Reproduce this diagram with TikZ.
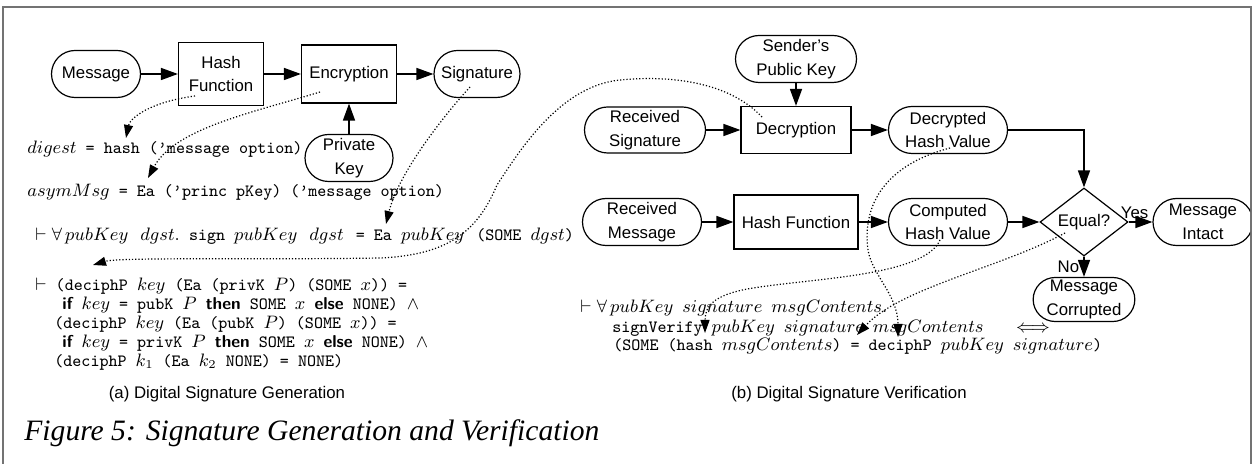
\documentclass[tikz,border=0pt]{standalone}
\usepackage{amsmath}
\usepackage{amssymb}
\usepackage{fontspec}
\usepackage{tikz}
\usetikzlibrary{shapes.geometric}
\usetikzlibrary{shapes.misc}
\usetikzlibrary{arrows.meta}
\usetikzlibrary{calc}
\newfontfamily\arialFont{Liberation Sans}
\newfontfamily\captionFont{Liberation Serif}
\colorlet{FrameGray}{black!55}
\newcommand{\boxFont}{\arialFont\fontsize{8.4}{11.8}\selectfont}
\newcommand{\holFont}{\ttfamily\fontsize{8.6}{10}\selectfont}
\newcommand{\holKw}[1]{{\sffamily\bfseries #1}}

\begin{document}
\begin{tikzpicture}[x=0.5pt,y=-0.5pt,
  box/.style={draw, line width=0.6pt, rectangle, align=center, font=\boxFont, inner sep=1pt},
  pill/.style={draw, line width=0.6pt, rounded rectangle, align=center, font=\boxFont, inner sep=1pt},
  flow/.style={line width=0.8pt, -{Triangle[length=8.5pt,width=6pt]}},
  hint/.style={line width=0.6pt, densely dotted, -{Triangle[length=6.5pt,width=4.5pt]}},
  hol/.style={anchor=base west, inner sep=0pt, font=\holFont},
  subcap/.style={font=\boxFont, inner sep=0pt}]

\useasboundingbox (0,0) rectangle (1254,464);

% The frame (bottom edge cut away)
\draw[line width=1pt, FrameGray] (3,464) |- (1251,7) -- (1251,464);

\def \rowA {74}
\def \rowB {130}
\def \rowC {222}

% (a) generation
\node[pill, minimum width=46.5pt, minimum height=23.5pt] (msg) at (96,\rowA) {Message};
\node[box, minimum width=42.5pt, minimum height=31.5pt] (hashA) at (221,\rowA) {Hash\\Function};
\node[box, minimum width=47.5pt, minimum height=29pt] (encA) at (349,\rowA) {Encryption};
\node[pill, minimum width=45pt, minimum height=23.5pt] (sigA) at (477,\rowA) {Signature};
\node[pill, minimum width=46pt, minimum height=23.5pt] (privA) at (349,158) {Private\\Key};

\draw[flow] (msg) -- (hashA);
\draw[flow] (hashA) -- (encA);
\draw[flow] (encA) -- (sigA);
\draw[flow] (privA) -- (encA);

% (b) verification
\node[pill, minimum width=62.5pt, minimum height=23.5pt] (pubB) at (796,59) {Sender’s\\Public Key};
\node[pill, minimum width=62.5pt, minimum height=23pt] (rsig) at (645,\rowB) {Received\\Signature};
\node[box, minimum width=55pt, minimum height=23.5pt] (dec) at (796,\rowB) {Decryption};
\node[pill, minimum width=61.5pt, minimum height=23.5pt] (dhash) at (948,\rowB) {Decrypted\\Hash Value};
\node[pill, minimum width=61.5pt, minimum height=23.5pt] (rmsg) at (642,\rowC) {Received\\Message};
\node[box, minimum width=62pt, minimum height=27pt] (hashB) at (796,\rowC) {Hash Function};
\node[pill, minimum width=61.5pt, minimum height=23.5pt] (chash) at (948,\rowC) {Computed\\Hash Value};
\node[diamond, draw, line width=0.6pt, font=\boxFont, inner sep=0pt,
      minimum width=44pt, minimum height=30pt] (eq) at (1084,\rowC) {Equal?};
\begin{scope}
\clip (1100,180) rectangle (1250,270);
\node[pill, minimum width=52pt, minimum height=23.5pt] (intact) at (1203,\rowC) {Message\\Intact};
\end{scope}
\node[pill, minimum width=49pt, minimum height=22pt] (corr) at (1084,299.5) {Message\\Corrupted};

\draw[flow] (pubB) -- (dec);
\draw[flow] (rsig) -- (dec);
\draw[flow] (dec) -- (dhash);
\draw[flow] (dhash.east) -| (eq.north);
\draw[flow] (rmsg) -- (hashB);
\draw[flow] (hashB) -- (chash);
\draw[flow] (chash) -- (eq);
\draw[flow] (eq) -- node[pos=0.25, above, font=\boxFont, inner sep=1.5pt] {Yes} (intact);
\draw[flow] (eq) -- node[left, font=\boxFont, inner sep=2pt] {No} (corr);

% HOL text of (a)
\node[hol] (digestEq) at (27,154) {$digest$ = hash (’message option)};
\node[hol] (asymEq) at (27,197) {$asymMsg$ = Ea (’princ pKey) (’message option)};
\node[hol] (signThm) at (35,241) {$\vdash\forall\,pubKey\,$ $dgst.$ sign $pubKey\,$ $dgst\,$ = Ea $pubKey\,$ (SOME $dgst$)};
\node[hol] (decA) at (35,291) {$\vdash$ (deciphP $key$ (Ea (privK $P$) (SOME $x$)) =};
\node[hol] (decB) at (62,310) {\holKw{if} $key$ = pubK $P$ \holKw{then} SOME $x$ \holKw{else} NONE) $\wedge$};
\node[hol] (decC) at (54,329) {(deciphP $key$ (Ea (pubK $P$) (SOME $x$)) =};
\node[hol] (decD) at (62,348) {\holKw{if} $key$ = privK $P$ \holKw{then} SOME $x$ \holKw{else} NONE) $\wedge$};
\node[hol] (decE) at (54,367) {(deciphP $k_1$ (Ea $k_2$ NONE) = NONE)};

% HOL text of (b)
\node[hol] (verA) at (580,313) {$\vdash\forall\,pubKey$ $signature$ $msgContents.$};
\node[hol] (verB) at (612,333) {signVerify $pubKey$ $signature$ $msgContents$ \ \ $\iff$};
\node[hol] (verC) at (613,351) {(SOME (hash $msgContents$) = deciphP $pubKey$ $signature$)};

% captions
\node[subcap] (capA) at (227,394) {(a) Digital Signature Generation};
\node[subcap] (capB) at (849,394) {(b) Digital Signature Verification};
\node[font=\captionFont\itshape\fontsize{14.8}{18}\selectfont, anchor=base west, inner sep=0pt]
  (figCap) at (24,441) {Figure 5: Signature Generation and Verification};

% dotted links from the boxes to the text
\coordinate (t1) at (126,138);
\coordinate (t2) at (148,178);
\coordinate (t3) at (386,224);
\coordinate (t4) at (93,265);
\coordinate (t5) at (898,337);
\coordinate (t6) at (705,333);
\coordinate (t7) at (857,335);

\draw[hint] ($(hashA)+(-26,22)$) .. controls (150,102) and (130,118) .. (t1);
\draw[hint] ($(encA)+(-29,18)$) .. controls (255,112) and (175,128) .. (t2);
\draw[hint] ($(sigA)+(-7,13)$) .. controls (440,120) and (398,175) .. (t3);
\draw[hint] ($(dec)+(-34,-13)$) .. controls (725,78) and (660,76) .. (620,80)
  .. controls (560,86) and (520,150) .. (497,185)
  .. controls (478,230) and (450,255) .. (380,258)
  .. controls (250,260) and (120,257) .. (t4);
\draw[hint] ($(dhash)+(2,18)$) .. controls (885,165) and (862,205) .. (868,250)
  .. controls (872,275) and (898,295) .. (t5);
\draw[hint] ($(chash)+(-8,18)$) .. controls (925,275) and (820,278) .. (760,287)
  .. controls (715,293) and (705,305) .. (t6);
\draw[hint] ($(eq)+(-19,11)$) .. controls (1000,268) and (900,288) .. (t7);

\end{tikzpicture}
\end{document}
